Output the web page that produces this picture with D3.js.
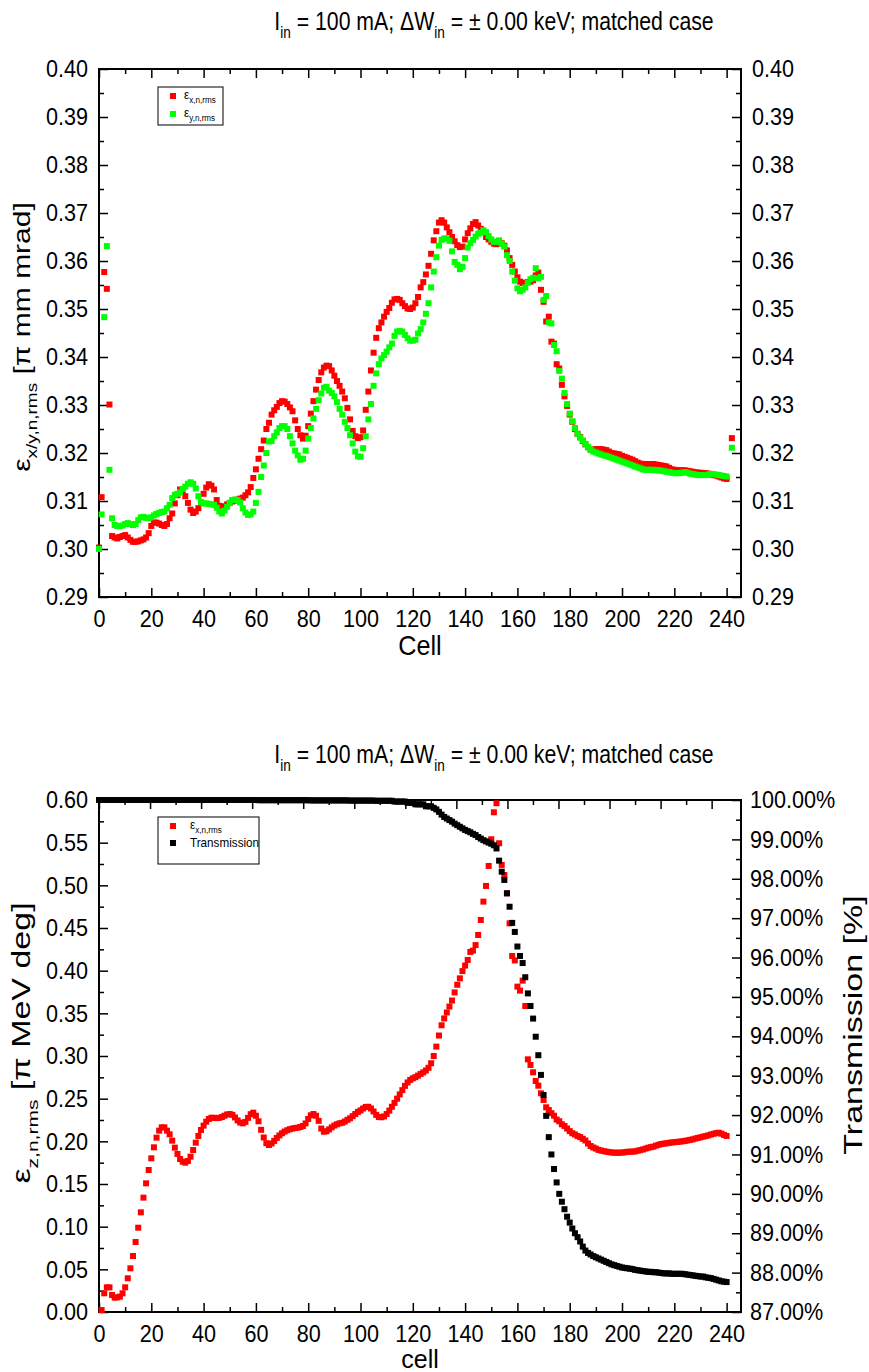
<!DOCTYPE html>
<html>
<head>
<meta charset="utf-8">
<script src="https://cdn.jsdelivr.net/npm/d3@7/dist/d3.min.js"></script>
<style>
  body { margin: 0; background: #fff; }
  svg { display: block; }
  text { font-family: "Liberation Sans", Arial, sans-serif; fill: #000; }
</style>
</head>
<body>
<svg id="chart" width="869" height="1372"></svg>
<script>
// ---------- data: transverse emittances per cell (cells 0..240) ----------
const epsX = [
0.3003,0.3108,0.3577,0.3542,0.3301,0.3027,0.3024,0.3022,0.3025,0.3027,
0.3029,0.3024,0.3019,0.3015,0.3015,0.3016,0.3018,0.3020,0.3024,0.3033,
0.3048,0.3055,0.3055,0.3053,0.3050,0.3048,0.3052,0.3064,0.3074,0.3095,
0.3112,0.3124,0.3120,0.3110,0.3096,0.3082,0.3075,0.3078,0.3085,0.3098,
0.3115,0.3128,0.3135,0.3132,0.3124,0.3102,0.3090,0.3085,0.3089,0.3093,
0.3096,0.3099,0.3101,0.3103,0.3105,0.3107,0.3112,0.3118,0.3129,0.3148,
0.3166,0.3188,0.3208,0.3226,0.3250,0.3263,0.3280,0.3289,0.3296,0.3304,
0.3308,0.3307,0.3302,0.3295,0.3287,0.3268,0.3250,0.3237,0.3230,0.3236,
0.3256,0.3282,0.3308,0.3332,0.3352,0.3368,0.3378,0.3382,0.3381,0.3372,
0.3361,0.3350,0.3340,0.3328,0.3314,0.3294,0.3270,0.3246,0.3235,0.3231,
0.3233,0.3247,0.3290,0.3328,0.3372,0.3409,0.3440,0.3460,0.3472,0.3484,
0.3494,0.3502,0.3513,0.3520,0.3521,0.3519,0.3512,0.3506,0.3501,0.3500,
0.3503,0.3512,0.3525,0.3545,0.3556,0.3572,0.3590,0.3615,0.3643,0.3662,
0.3680,0.3685,0.3680,0.3670,0.3660,0.3650,0.3641,0.3633,0.3629,0.3630,
0.3645,0.3658,0.3668,0.3677,0.3681,0.3674,0.3667,0.3660,0.3650,0.3645,
0.3640,0.3636,0.3635,0.3636,0.3637,0.3632,0.3622,0.3606,0.3592,0.3578,
0.3566,0.3557,0.3554,0.3555,0.3556,0.3557,0.3560,0.3570,0.3576,0.3540,
0.3515,0.3474,0.3484,0.3432,0.3428,0.3385,0.3376,0.3342,0.3318,0.3298,
0.3280,0.3265,0.3250,0.3240,0.3233,0.3225,0.3218,0.3212,0.3207,0.3207,
0.3208,0.3208,0.3208,0.3207,0.3206,0.3203,0.3200,0.3199,0.3198,0.3197,
0.3194,0.3192,0.3190,0.3188,0.3186,0.3183,0.3180,0.3178,0.3177,0.3177,
0.3177,0.3177,0.3177,0.3176,0.3175,0.3174,0.3173,0.3172,0.3169,0.3166,
0.3165,0.3164,0.3164,0.3164,0.3164,0.3163,0.3162,0.3161,0.3160,0.3159,
0.3159,0.3158,0.3158,0.3157,0.3155,0.3154,0.3153,0.3151,0.3149,0.3147,
0.3146
];
const epsY = [
0.3000,0.3072,0.3483,0.3631,0.3165,0.3064,0.3050,0.3048,0.3048,0.3049,
0.3052,0.3054,0.3052,0.3050,0.3052,0.3060,0.3066,0.3067,0.3065,0.3064,
0.3066,0.3070,0.3073,0.3075,0.3077,0.3078,0.3085,0.3092,0.3106,0.3113,
0.3115,0.3118,0.3125,0.3130,0.3136,0.3139,0.3136,0.3126,0.3110,0.3098,
0.3095,0.3095,0.3094,0.3093,0.3092,0.3086,0.3078,0.3074,0.3080,0.3088,
0.3096,0.3102,0.3103,0.3102,0.3097,0.3085,0.3076,0.3071,0.3072,0.3078,
0.3096,0.3119,0.3150,0.3174,0.3200,0.3224,0.3225,0.3235,0.3243,0.3252,
0.3256,0.3256,0.3250,0.3235,0.3220,0.3205,0.3195,0.3186,0.3188,0.3205,
0.3230,0.3252,0.3272,0.3292,0.3310,0.3324,0.3336,0.3338,0.3330,0.3325,
0.3318,0.3306,0.3292,0.3280,0.3265,0.3252,0.3237,0.3220,0.3203,0.3193,
0.3192,0.3210,0.3235,0.3270,0.3302,0.3340,0.3366,0.3385,0.3397,0.3404,
0.3411,0.3420,0.3428,0.3444,0.3453,0.3454,0.3453,0.3446,0.3439,0.3434,
0.3434,0.3436,0.3449,0.3458,0.3472,0.3490,0.3512,0.3545,0.3578,0.3608,
0.3632,0.3644,0.3647,0.3647,0.3642,0.3620,0.3598,0.3592,0.3583,0.3588,
0.3606,0.3628,0.3637,0.3644,0.3651,0.3657,0.3659,0.3664,0.3660,0.3652,
0.3645,0.3640,0.3640,0.3643,0.3636,0.3630,0.3612,0.3600,0.3578,0.3559,
0.3543,0.3537,0.3540,0.3545,0.3555,0.3562,0.3565,0.3585,0.3564,0.3567,
0.3519,0.3527,0.3472,0.3470,0.3425,0.3412,0.3371,0.3355,0.3325,0.3302,
0.3282,0.3266,0.3252,0.3240,0.3232,0.3226,0.3219,0.3213,0.3207,0.3203,
0.3201,0.3199,0.3197,0.3195,0.3194,0.3192,0.3190,0.3188,0.3186,0.3184,
0.3182,0.3180,0.3178,0.3176,0.3174,0.3172,0.3170,0.3168,0.3166,0.3165,
0.3165,0.3165,0.3165,0.3164,0.3164,0.3163,0.3162,0.3161,0.3160,0.3159,
0.3158,0.3158,0.3158,0.3159,0.3160,0.3159,0.3157,0.3156,0.3155,0.3154,
0.3154,0.3154,0.3154,0.3155,0.3156,0.3156,0.3155,0.3154,0.3153,0.3152,
0.3151
];
// values at the exit point after the last cell
const exitCell = 242;
const exitEpsX = 0.3231;
const exitEpsY = 0.3211;

// ---------- data: longitudinal emittance, cells 1..240 ----------
const epsZFirstCell = 1;
const epsZ = [
0.0023,0.0219,0.0289,0.0289,0.0199,0.0168,0.0172,0.0180,0.0219,0.0289,
0.0395,0.0512,0.0656,0.0820,0.0988,0.1168,0.1340,0.1508,0.1664,0.1801,
0.1930,0.2043,0.2125,0.2164,0.2164,0.2125,0.2082,0.2008,0.1926,0.1852,
0.1793,0.1762,0.1750,0.1770,0.1820,0.1898,0.1984,0.2063,0.2133,0.2184,
0.2230,0.2262,0.2277,0.2275,0.2272,0.2275,0.2285,0.2300,0.2315,0.2320,
0.2310,0.2280,0.2245,0.2220,0.2211,0.2228,0.2275,0.2318,0.2336,0.2300,
0.2235,0.2135,0.2045,0.1978,0.1957,0.1975,0.2005,0.2040,0.2070,0.2095,
0.2115,0.2130,0.2142,0.2150,0.2156,0.2160,0.2168,0.2180,0.2210,0.2262,
0.2305,0.2320,0.2300,0.2240,0.2150,0.2113,0.2118,0.2140,0.2164,0.2185,
0.2200,0.2211,0.2217,0.2232,0.2252,0.2270,0.2295,0.2320,0.2345,0.2362,
0.2385,0.2403,0.2405,0.2385,0.2350,0.2310,0.2285,0.2282,0.2292,0.2320,
0.2360,0.2405,0.2450,0.2500,0.2550,0.2600,0.2650,0.2690,0.2720,0.2738,
0.2752,0.2770,0.2790,0.2808,0.2830,0.2862,0.2915,0.3000,0.3110,0.3240,
0.3360,0.3440,0.3510,0.3580,0.3650,0.3745,0.3835,0.3910,0.3995,0.4060,
0.4125,0.4220,0.4235,0.4300,0.4418,0.4594,0.4809,0.4993,0.5227,0.5540,
0.5856,0.5962,0.5493,0.5239,0.5121,0.4907,0.4555,0.4172,0.4120,0.3813,
0.3766,0.3883,0.3586,0.2961,0.2895,0.2809,0.2707,0.2652,0.2563,0.2485,
0.2399,0.2367,0.2330,0.2300,0.2255,0.2235,0.2200,0.2180,0.2150,0.2120,
0.2095,0.2080,0.2062,0.2050,0.2030,0.2010,0.1975,0.1945,0.1928,0.1915,
0.1900,0.1892,0.1885,0.1879,0.1874,0.1869,0.1867,0.1867,0.1867,0.1868,
0.1872,0.1877,0.1879,0.1879,0.1882,0.1890,0.1897,0.1905,0.1915,0.1925,
0.1932,0.1938,0.1950,0.1960,0.1968,0.1973,0.1977,0.1982,0.1987,0.1990,
0.1993,0.1996,0.2000,0.2005,0.2010,0.2017,0.2023,0.2032,0.2040,0.2047,
0.2055,0.2062,0.2070,0.2080,0.2088,0.2096,0.2101,0.2090,0.2075,0.2063
];

// ---------- data: transmission [%] per cell (cells 0..240) ----------
const transmission = [
100,100,100,100,100,100,100,100,100,100,
100,100,100,100,100,100,100,100,100,100,
100,100,100,100,100,100,100,100,100,100,
100,100,100,100,100,100,100,100,100,100,
100,100,100,100,100,100,100,100,100,100,
100,100,100,100,100,100,100,100,100,100,
100,99.995,99.995,99.995,99.995,99.995,99.995,99.995,99.995,99.995,
99.995,99.995,99.995,99.995,99.995,99.995,99.995,99.995,99.995,99.995,
99.995,99.99,99.99,99.99,99.99,99.99,99.99,99.99,99.99,99.99,
99.99,99.99,99.99,99.99,99.99,99.99,99.985,99.985,99.985,99.985,
99.985,99.985,99.985,99.985,99.985,99.985,99.98,99.98,99.98,99.98,
99.98,99.98,99.98,99.96,99.96,99.96,99.96,99.96,99.93,99.93,
99.93,99.89,99.89,99.89,99.89,99.84,99.84,99.84,99.80,99.76,
99.70,99.63,99.57,99.53,99.49,99.45,99.40,99.36,99.32,99.28,
99.24,99.21,99.18,99.14,99.11,99.06,99.02,98.98,98.95,98.92,
98.89,98.85,98.77,98.46,98.18,97.97,97.63,97.29,96.88,96.65,
96.28,96.04,95.86,95.50,95.09,94.77,94.45,93.99,93.52,93.02,
92.51,91.98,91.44,91.00,90.63,90.29,90.00,89.80,89.61,89.42,
89.27,89.12,89.00,88.90,88.79,88.66,88.56,88.50,88.46,88.42,
88.39,88.36,88.33,88.30,88.27,88.24,88.21,88.19,88.17,88.15,
88.13,88.12,88.11,88.10,88.09,88.07,88.06,88.05,88.04,88.03,
88.02,88.02,88.01,88.01,88.00,87.99,87.98,87.98,87.98,87.97,
87.97,87.97,87.97,87.97,87.96,87.95,87.94,87.93,87.92,87.91,
87.90,87.90,87.88,87.87,87.86,87.84,87.82,87.80,87.78,87.77,
87.76
];

// ---------- tick values ----------
const cellTicks = [0, 20, 40, 60, 80, 100, 120, 140, 160, 180, 200, 220, 240];
const cellMinorTicks = [10, 30, 50, 70, 90, 110, 130, 150, 170, 190, 210, 230];
const epsTransTicks = [0.29, 0.30, 0.31, 0.32, 0.33, 0.34, 0.35, 0.36, 0.37, 0.38, 0.39, 0.40];
const epsTransMinor = [0.295, 0.305, 0.315, 0.325, 0.335, 0.345, 0.355, 0.365, 0.375, 0.385, 0.395];
const epsZTicks = [0, 0.05, 0.10, 0.15, 0.20, 0.25, 0.30, 0.35, 0.40, 0.45, 0.50, 0.55, 0.60];
const epsZMinor = [0.025, 0.075, 0.125, 0.175, 0.225, 0.275, 0.325, 0.375, 0.425, 0.475, 0.525, 0.575];
const transTicks = [87, 88, 89, 90, 91, 92, 93, 94, 95, 96, 97, 98, 99, 100];
const transMinor = [87.5, 88.5, 89.5, 90.5, 91.5, 92.5, 93.5, 94.5, 95.5, 96.5, 97.5, 98.5, 99.5];

// ---------- colours ----------
const RED = "#ff0000", GREEN = "#00ff00", BLACK = "#000000";

const svg = d3.select("#chart");
const FONT_TICK = 24;
const SX = 0.9;            // horizontal glyph scale of the lettering
const MAJOR = 9, MINOR = 5;

// text with subscripts: parts = [[text, isSub], ...]
function richText(sel, parts, size, subSize) {
  parts.forEach(([t, sub], i) => {
    const prevSub = i > 0 && parts[i - 1][1];
    const ts = sel.append("tspan").text(t)
      .attr("font-size", sub ? subSize : size);
    if (sub && !prevSub) ts.attr("dy", size * 0.3);
    else if (!sub && prevSub) ts.attr("dy", -size * 0.3);
  });
  return sel;
}

// a text element placed at (x, y), narrowed horizontally by sx, optionally rotated
function placedText(x, y, rotate, sx = SX) {
  return svg.append("text")
    .attr("transform", `translate(${x},${y}) scale(${sx},1)` + (rotate ? ` rotate(${rotate})` : ""));
}

function styleAxis(g, showLabels) {
  g.select(".domain").remove();
  g.selectAll(".tick line").attr("stroke", "#000").attr("stroke-width", 1.5);
  if (!showLabels) { g.selectAll(".tick text").remove(); return; }
  g.selectAll(".tick text")
    .attr("font-size", FONT_TICK)
    .attr("font-family", '"Liberation Sans", Arial, sans-serif')
    .attr("x", function () { return (+this.getAttribute("x") || 0) / SX; })
    .attr("transform", `scale(${SX},1)`);
}

function drawAxis(g, axisFn, scale, major, minor, fmt, showLabels, pad) {
  g.append("g").call(axisFn(scale).tickValues(minor).tickSize(-MINOR).tickFormat(""))
    .call(a => styleAxis(a, false));
  g.append("g").call(axisFn(scale).tickValues(major).tickSize(-MAJOR).tickPadding(pad).tickFormat(fmt))
    .call(a => styleAxis(a, showLabels));
}

function frame(L, R, T, B) {
  svg.append("rect").attr("x", L).attr("y", T).attr("width", R - L).attr("height", B - T)
    .attr("fill", "none").attr("stroke", "#000").attr("stroke-width", 2);
}

function title(y) {
  const t = placedText(494, y, 0, 0.85).attr("text-anchor", "middle");
  richText(t, [["I", false], ["in", true], [" = 100 mA; \u0394W", false], ["in", true],
               [" = \u00B1 0.00 keV; matched case", false]], 25, 16);
}

function squares(g, pts, xs, ys, color) {
  g.selectAll(null).data(pts).join("rect")
    .attr("x", d => xs(d[0]) - 3).attr("y", d => ys(d[1]) - 3)
    .attr("width", 6).attr("height", 6).attr("fill", color);
}

// ================= upper panel: transverse emittances =================
{
  const L = 99, R = 741, T = 69, B = 597;
  const x = d3.scaleLinear().domain([0, 245.5]).range([L, R]);
  const y = d3.scaleLinear().domain([0.29, 0.40]).range([B, T]);
  const f2 = d3.format(".2f");

  title(30);

  const g = svg.append("g");
  drawAxis(g.append("g").attr("transform", `translate(0,${B})`), d3.axisBottom, x, cellTicks, cellMinorTicks, d3.format("d"), true, 13);
  drawAxis(g.append("g").attr("transform", `translate(0,${T})`), d3.axisTop, x, cellTicks, cellMinorTicks, "", false, 0);
  drawAxis(g.append("g").attr("transform", `translate(${L},0)`), d3.axisLeft, y, epsTransTicks, epsTransMinor, f2, true, 11);
  drawAxis(g.append("g").attr("transform", `translate(${R},0)`), d3.axisRight, y, epsTransTicks, epsTransMinor, f2, true, 11);
  frame(L, R, T, B);

  const px = epsX.map((v, i) => [i, v]).concat([[exitCell, exitEpsX]]);
  const py = epsY.map((v, i) => [i, v]).concat([[exitCell, exitEpsY]]);
  squares(svg.append("g"), px, x, y, RED);
  squares(svg.append("g"), py, x, y, GREEN);

  // legend
  const lg = svg.append("g");
  lg.append("rect").attr("x", 158).attr("y", 87).attr("width", 65).attr("height", 38)
    .attr("fill", "#fff").attr("stroke", "#000").attr("stroke-width", 1);
  [[RED, "x,n,rms", 96], [GREEN, "y,n,rms", 114]].forEach(([c, sub, yy]) => {
    lg.append("rect").attr("x", 170).attr("y", yy - 3).attr("width", 6).attr("height", 6).attr("fill", c);
    richText(placedText(184, yy + 3, 0), [["\u03B5", false], [sub, true]], 13, 9);
  });

  // axis titles
  placedText(420, 655, 0).attr("text-anchor", "middle").attr("font-size", 28).text("Cell");
  const yl = placedText(30, 337, -90, 0.8).attr("text-anchor", "middle");
  richText(yl, [["\u03B5", false], ["x/y,n,rms", true], [" [\u03C0 mm mrad]", false]], 30, 19);
}

// ================= lower panel: longitudinal emittance & transmission =================
{
  const L = 99, R = 741, T = 800, B = 1312;
  const x = d3.scaleLinear().domain([0, 245.5]).range([L, R]);
  const xTop = d3.scaleLinear().domain([0, 251.5]).range([L, R]);
  const y = d3.scaleLinear().domain([0, 0.60]).range([B, T]);
  const yT = d3.scaleLinear().domain([87, 100]).range([B, T]);

  title(763);

  const g = svg.append("g");
  drawAxis(g.append("g").attr("transform", `translate(0,${B})`), d3.axisBottom, x, cellTicks, cellMinorTicks, d3.format("d"), true, 13);
  drawAxis(g.append("g").attr("transform", `translate(0,${T})`), d3.axisTop, xTop, cellTicks, cellMinorTicks, "", false, 0);
  drawAxis(g.append("g").attr("transform", `translate(${L},0)`), d3.axisLeft, y, epsZTicks, epsZMinor, d3.format(".2f"), true, 11);
  drawAxis(g.append("g").attr("transform", `translate(${R},0)`), d3.axisRight, yT, transTicks, transMinor, d => d.toFixed(2) + "%", true, 9);
  frame(L, R, T, B);

  const pz = epsZ.map((v, i) => [i + epsZFirstCell, v]);
  const pt = transmission.map((v, i) => [i, v]);
  squares(svg.append("g"), pz, x, y, RED);
  squares(svg.append("g"), pt, x, yT, BLACK);

  // legend
  const lg = svg.append("g");
  lg.append("rect").attr("x", 158).attr("y", 817).attr("width", 101).attr("height", 47)
    .attr("fill", "#fff").attr("stroke", "#000").attr("stroke-width", 1);
  lg.append("rect").attr("x", 170).attr("y", 823).attr("width", 6).attr("height", 6).attr("fill", RED);
  richText(placedText(190, 829, 0), [["\u03B5", false], ["x,n,rms", true]], 13, 9);
  lg.append("rect").attr("x", 170).attr("y", 840).attr("width", 6).attr("height", 6).attr("fill", BLACK);
  placedText(190, 847, 0).attr("font-size", 13).text("Transmission");

  // axis titles
  placedText(420, 1368, 0, 1).attr("text-anchor", "middle").attr("font-size", 25).text("cell");
  const yl = placedText(30, 1043, -90, 0.74).attr("text-anchor", "middle");
  richText(yl, [["\u03B5", false], ["z,n,rms", true], [" [\u03C0 MeV deg]", false]], 34, 21);
  placedText(862, 1025, -90, 0.74).attr("text-anchor", "middle").attr("font-size", 34).text("Transmission [%]");
}
</script>
</body>
</html>
